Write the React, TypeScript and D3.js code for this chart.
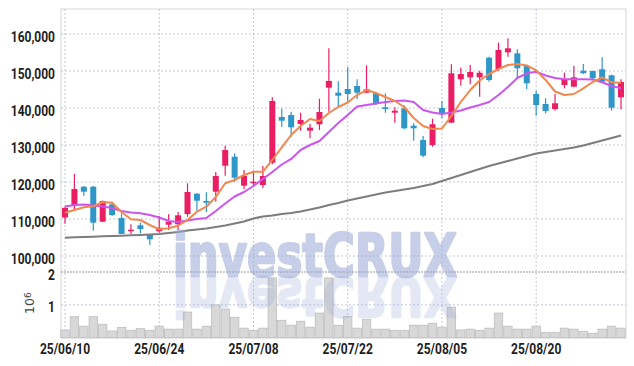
import * as d3 from 'd3';
import { useEffect, useRef } from 'react';

// trading days, 2025-06-10 .. 2025-09-02
const dates = [
    '2025-06-10', '2025-06-11', '2025-06-12', '2025-06-13', '2025-06-16', '2025-06-17', '2025-06-18', '2025-06-19', '2025-06-20', '2025-06-23',
    '2025-06-24', '2025-06-25', '2025-06-26', '2025-06-27', '2025-06-30', '2025-07-01', '2025-07-02', '2025-07-03', '2025-07-04', '2025-07-07',
    '2025-07-08', '2025-07-09', '2025-07-10', '2025-07-11', '2025-07-14', '2025-07-15', '2025-07-16', '2025-07-17', '2025-07-18', '2025-07-21',
    '2025-07-22', '2025-07-23', '2025-07-24', '2025-07-25', '2025-07-28', '2025-07-29', '2025-07-30', '2025-07-31', '2025-08-01', '2025-08-04',
    '2025-08-05', '2025-08-06', '2025-08-07', '2025-08-08', '2025-08-11', '2025-08-12', '2025-08-13', '2025-08-14', '2025-08-18', '2025-08-19',
    '2025-08-20', '2025-08-21', '2025-08-22', '2025-08-25', '2025-08-26', '2025-08-27', '2025-08-28', '2025-08-29', '2025-09-01', '2025-09-02',
];

const opens = [
    110400, 113600, 118730, 118730, 109270, 113970, 110270, 106900, 108300, 105680,
    106680, 108460, 108570, 111350, 116840, 114870, 117380, 124400, 126840, 119000,
    119650, 119190, 125220, 137570, 138110, 135680, 133870, 135600, 145490, 144140,
    145135, 145950, 144140, 143970, 140190, 138730, 139920, 135220, 131350, 130000,
    140000, 136030, 147760, 148300, 148300, 153600, 150540, 155050, 154780, 151350,
    143780, 141080, 139730, 146220, 145760, 150080, 150000, 150460, 148840, 142890,
];
const highs = [
    113300, 122160, 118900, 118900, 115000, 114680, 111500, 108570, 109000, 105900,
    110810, 111270, 111890, 119650, 117000, 117220, 122700, 129820, 127760, 123240,
    122780, 124320, 142890, 139810, 139000, 138730, 135680, 142510, 156130, 147220,
    151000, 147760, 151540, 144200, 143970, 140190, 140730, 135870, 132430, 137110,
    141890, 151810, 150890, 151620, 150080, 153870, 157650, 158840, 155860, 151700,
    144680, 142620, 143780, 149540, 151430, 151890, 150100, 153700, 149000, 147760,
];
const lows = [
    108700, 112430, 116300, 106840, 109200, 110800, 105900, 105950, 106130, 102970,
    106300, 107030, 107030, 110620, 112240, 111890, 114680, 121700, 120080, 118030,
    118730, 118380, 124780, 134950, 132240, 133870, 131810, 134050, 139000, 140190,
    141700, 142350, 144000, 140810, 138730, 136030, 134240, 131160, 126680, 129540,
    137220, 135950, 146030, 146410, 143050, 147110, 150080, 153870, 148030, 145050,
    137920, 138570, 139270, 145320, 145590, 149190, 147570, 146840, 139270, 139650,
];
const closes = [
    113000, 118100, 117380, 109000, 114870, 111080, 105950, 107100, 107300, 104510,
    107650, 109270, 111000, 117300, 114950, 114400, 121620, 128650, 121160, 121620,
    120080, 121620, 141890, 136570, 134780, 136760, 134680, 138920, 147300, 143330,
    143780, 144140, 145050, 141270, 139730, 139270, 134510, 134510, 127110, 135600,
    138380, 149380, 149190, 149730, 149540, 147570, 155680, 156130, 150730, 146680,
    140810, 139190, 141270, 147840, 148300, 149380, 148030, 147110, 140080, 147030,
];
const volumes = [
    235000, 640000, 350000, 640000, 410000, 205000, 310000, 225000, 275000, 225000,
    350000, 260000, 260000, 780000, 260000, 350000, 1000000, 870000, 620000, 290000,
    225000, 290000, 1820000, 530000, 380000, 500000, 320000, 750000, 1820000, 380000,
    650000, 290000, 560000, 260000, 260000, 225000, 225000, 380000, 380000, 440000,
    320000, 930000, 235000, 260000, 225000, 290000, 750000, 350000, 260000, 260000,
    350000, 165000, 165000, 290000, 260000, 195000, 135000, 260000, 350000, 290000,
];

// moving averages
const maShort = [
    111700, 112430, 113160, 113430, 114600, 114410, 111890, 109920, 109730, 108380,
    107220, 107490, 108190, 109730, 111970, 113320, 115950, 119650, 120540, 121890,
    122780, 122780, 125950, 129350, 132700, 135140, 137030, 136490, 138650, 140270,
    141490, 143510, 144860, 144050, 142970, 141890, 140270, 137300, 135140, 134320,
    134460, 137840, 141620, 144860, 147430, 149190, 150540, 151620, 151890, 151490,
    150140, 147570, 144460, 143510, 143780, 145320, 147030, 148240, 146950, 146840,
];
const maMid = [
    113380, 113780, 113920, 113650, 113380, 112970, 112160, 111760, 111540, 111080,
    110410, 109460, 109190, 109600, 110000, 110270, 112160, 114190, 116080, 117300,
    118920, 120810, 122700, 124730, 126220, 128650, 130000, 131080, 133510, 135950,
    138110, 140410, 140810, 141220, 141620, 141890, 142030, 141620, 139460, 138780,
    138380, 138780, 139320, 140130, 140810, 141620, 143510, 145680, 148110, 149380,
    149810, 148780, 148110, 147760, 147760, 147760, 147700, 146950, 145950, 145320,
];
const maLong = [
    104950, 105050, 105140, 105220, 105320, 105410, 105490, 105590, 105680, 105810,
    105950, 106220, 106490, 106890, 107160, 107430, 107840, 108240, 108780, 109320,
    110140, 110680, 110950, 111350, 111620, 112030, 112570, 113110, 113780, 114320,
    115000, 115540, 116080, 116620, 117160, 117570, 117970, 118380, 118920, 119460,
    120270, 121080, 121890, 122700, 123510, 124320, 125000, 125680, 126350, 127030,
    127700, 128110, 128510, 128920, 129320, 129860, 130540, 131220, 131890, 132570,
];

const priceTicks = [100000, 110000, 120000, 130000, 140000, 150000, 160000];
const volumeTicks = [1, 2];
const dateTicks = ['2025-06-10', '2025-06-24', '2025-07-08', '2025-07-22', '2025-08-05', '2025-08-20'];

const upColor = '#e91e63';
const downColor = '#2f96c8';

const App = () => {
    const ref = useRef<SVGSVGElement>(null);

    useEffect(() => {
        document.body.style.margin = '0';
        drawChart();
    }, []);

    const drawChart = () => {
        const left = 61, right = 626, top = 9, paneSplit = 272, bottom = 338;
        const svg: any = d3.select(ref.current);
        svg.selectAll('*').remove();

        const x: any = d3.scalePoint().domain(dates).range([left + 4, right - 5]);
        const y: any = d3.scaleLinear().domain([100000, 160000]).range([256, 34]);
        const yv: any = d3.scaleLinear().domain([0, 2]).range([337.7, paneSplit]);
        const step = x.step();
        const parse = d3.timeParse('%Y-%m-%d');
        const fmt = d3.timeFormat('%y/%m/%d');

        const label = (g: any, tx: number, ty: number, text: string, anchor: string) => {
            g.append('g')
                .attr('transform', `translate(${tx},${ty}) scale(0.8,1)`)
                .append('text')
                .text(text)
                .attr('text-anchor', anchor)
                .style('font-family', 'Roboto, sans-serif')
                .style('font-size', '15px')
                .style('font-weight', 700)
                .style('fill', '#1e1e1e');
        };

        // frame
        svg.append('rect')
            .attr('x', left).attr('y', top)
            .attr('width', right - left).attr('height', bottom - top)
            .attr('fill', 'none').attr('stroke', '#d6d6d6');

        // grid
        const grid = svg.append('g').attr('stroke', '#c3c9dd').attr('stroke-dasharray', '2,2');
        priceTicks.forEach((t) => {
            grid.append('line').attr('x1', left).attr('x2', right).attr('y1', y(t)).attr('y2', y(t));
        });
        grid.append('line').attr('x1', left).attr('x2', right).attr('y1', yv(1)).attr('y2', yv(1));
        dateTicks.forEach((d) => {
            grid.append('line').attr('x1', x(d)).attr('x2', x(d)).attr('y1', top).attr('y2', bottom);
        });
        // pane separator / 2M line
        svg.append('line')
            .attr('x1', left).attr('x2', right).attr('y1', yv(2)).attr('y2', yv(2))
            .attr('stroke', '#9a9a9a').attr('stroke-dasharray', '2,1');

        // axis labels
        priceTicks.forEach((t) => label(svg, 55, y(t) + 7.5, d3.format(',')(t), 'end'));
        volumeTicks.forEach((t) => label(svg, 55, yv(t) + 7.5, String(t), 'end'));
        dateTicks.forEach((d) => label(svg, x(d), 354, fmt(parse(d) as Date), 'middle'));

        const unit = svg.append('g')
            .attr('transform', 'translate(34,306) rotate(-90)')
            .append('text')
            .attr('x', -8)
            .style('font-family', 'DejaVu Sans, sans-serif')
            .style('font-size', '12.5px')
            .style('fill', '#444');
        unit.append('tspan').text('10');
        unit.append('tspan').text('6').attr('dy', -3).style('font-size', '9px');

        // volume bars
        svg.append('g')
            .selectAll('rect')
            .data(volumes)
            .enter()
            .append('rect')
            .attr('x', (d: any, i: number) => x(dates[i]) - step / 2 + 0.5)
            .attr('width', step - 1)
            .attr('y', (d: any) => yv(d / 1e6))
            .attr('height', (d: any) => yv(0) - yv(d / 1e6))
            .attr('fill', '#d8d8d8')
            .attr('stroke', '#bebebe')
            .attr('stroke-width', 0.8);

        // candles
        const candles = svg.append('g')
            .selectAll('g')
            .data(dates)
            .enter()
            .append('g');
        const col = (i: number) => (closes[i] >= opens[i] ? upColor : downColor);
        candles.append('line')
            .attr('x1', (d: any) => x(d)).attr('x2', (d: any) => x(d))
            .attr('y1', (d: any, i: number) => y(highs[i]))
            .attr('y2', (d: any, i: number) => y(lows[i]))
            .attr('stroke', (d: any, i: number) => col(i))
            .attr('stroke-width', 1.2);
        candles.append('rect')
            .attr('x', (d: any) => x(d) - 3)
            .attr('width', 6)
            .attr('y', (d: any, i: number) => y(Math.max(opens[i], closes[i])))
            .attr('height', (d: any, i: number) => Math.max(1.5, Math.abs(y(opens[i]) - y(closes[i]))))
            .attr('fill', (d: any, i: number) => col(i));

        // moving averages
        const line: any = d3.line()
            .x((d: any, i: number) => x(dates[i]))
            .y((d: any) => y(d));
        [[maLong, '#7d7d7d'], [maMid, '#cc55ee'], [maShort, '#f0884f']].forEach(([s, c]: any) => {
            svg.append('path')
                .attr('d', line(s))
                .attr('fill', 'none')
                .attr('stroke', c)
                .attr('stroke-width', 2)
                .attr('stroke-linejoin', 'round');
        });

        // watermark + reflection
        const mark = (g: any) => g.append('text')
            .text('investCRUX')
            .attr('x', 173).attr('y', 276)
            .attr('textLength', 284)
            .attr('lengthAdjust', 'spacingAndGlyphs')
            .style('font-family', 'DejaVu Sans, Liberation Sans, sans-serif')
            .style('font-size', '58px')
            .style('font-weight', 700)
            .style('fill', '#9aa8d6')
            .style('stroke', '#9aa8d6')
            .style('stroke-width', 2.5)
            .style('stroke-linejoin', 'round');
        mark(svg).style('opacity', 0.55);
        mark(svg.append('g').attr('transform', 'translate(0,277) scale(1,-0.93) translate(0,-277)'))
            .style('opacity', 0.26);
    };

    return (
        <svg ref={ref} width={634} height={366} style={{ display: 'block' }}></svg>
    );
};

export default App;
